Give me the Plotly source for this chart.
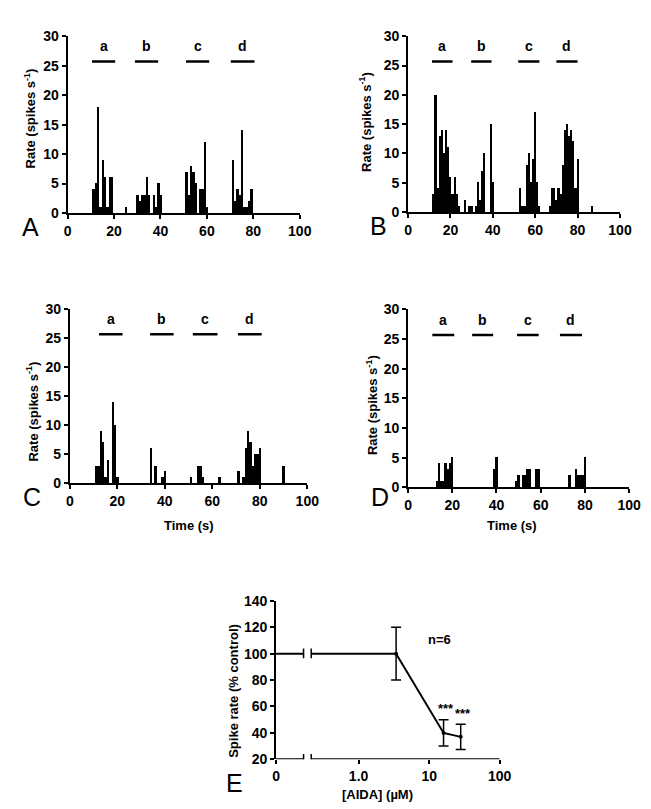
import math
import plotly.graph_objects as go

W, H = 651, 809
FONT = "Liberation Sans, Arial, sans-serif"

# spike rate histograms, 1-s bins (bin time in s, rate in spikes/s)
a_time = [11, 12, 13, 14, 15, 16, 17, 18, 19, 25,
          30, 31, 32, 33, 34, 35, 37, 38, 39, 40,
          51, 52, 53, 54, 55, 57, 58, 59, 60,
          71, 72, 73, 74, 75, 76, 77, 78, 79]
a_rate = [4, 5, 18, 1, 9, 6, 1, 6, 6, 1,
          3, 2, 3, 3, 6, 3, 3, 1, 5, 3,
          7, 3, 8, 7, 5, 4, 4, 12, 1,
          9, 2, 4, 3, 14, 1, 1, 2, 4]

b_time = [12, 13, 14, 15, 16, 17, 18, 19, 20, 21, 22, 23, 24, 27, 29, 30,
          32, 33, 34, 35, 36, 39, 40,
          53, 54, 55, 56, 57, 58, 59, 60, 61, 62,
          67, 68, 69, 70, 71, 72, 73, 74, 75, 76, 77, 78, 79, 80, 87]
b_rate = [3, 20, 4, 13, 14, 10, 14, 11, 6, 3, 6, 3, 1, 2, 1, 1,
          1, 5, 2, 7, 10, 15, 5,
          4, 1, 1, 8, 10, 5, 9, 17, 5, 1,
          1, 4, 4, 2, 4, 3, 8, 14, 15, 13, 14, 12, 4, 9, 1]

c_time = [11, 12, 13, 14, 15, 16, 18, 19, 20,
          34, 36, 39, 40, 51, 54, 55, 56, 63,
          71, 73, 74, 75, 76, 77, 78, 79, 80, 90]
c_rate = [3, 3, 9, 7, 1, 4, 14, 10, 1,
          6, 3, 1, 2, 1, 3, 3, 1, 1,
          2, 1, 6, 9, 7, 3, 5, 5, 6, 3]

d_time = [13, 14, 15, 16, 17, 18, 19, 20, 39, 40,
          49, 50, 52, 53, 54, 55, 58, 59,
          73, 76, 77, 78, 79, 80]
d_rate = [1, 4, 1, 1, 4, 3, 4, 5, 3, 5,
          1, 2, 2, 2, 3, 3, 3, 3,
          2, 3, 2, 2, 2, 5]

# application periods (s) for each panel
period_labels = ["a", "b", "c", "d"]
a_periods = [(10.5, 20.5), (29, 39), (51, 61), (70.3, 80.5)]
b_periods = [(11.3, 21), (29.8, 39.4), (52, 62), (70, 80)]
c_periods = [(12.3, 22.2), (33.8, 43.7), (51.8, 62.2), (70.8, 80.8)]
d_periods = [(11, 20.9), (29, 38.5), (49.3, 59.1), (68.7, 78.7)]
period_level = 25.7

time_ticks = [0, 20, 40, 60, 80, 100]
rate_ticks = [0, 5, 10, 15, 20, 25, 30]

# panel E: concentration-response
aida_conc = [3.4, 16, 28]
aida_rate = [100, 40, 37]
aida_sem = [20, 10, 9.5]
control_rate = 100
zero_pos = 10 ** -1.17   # where "0" sits on the log axis
axis_break = [0.166, 0.213]
conc_ticks = [zero_pos, 1, 10, 100]
conc_labels = ["0", "1.0", "10", "100"]
pct_ticks = [20, 40, 60, 80, 100, 120, 140]


def px_x(p0, p1):
    return [p0 / W, p1 / W]


def px_y(top, bottom):
    return [1 - bottom / H, 1 - top / H]


def bold(vals):
    return ["<b>%s</b>" % v for v in vals]


fig = go.Figure()

panels = [
    ("A", a_time, a_rate, a_periods, "x", "y", px_x(57, 295), px_y(20.7, 201)),
    ("B", b_time, b_rate, b_periods, "x2", "y2", px_x(406, 623.3), px_y(20.7, 200)),
    ("C", c_time, c_rate, c_periods, "x3", "y3", px_x(59.3, 302.7), px_y(299.3, 476.7)),
    ("D", d_time, d_rate, d_periods, "x4", "y4", px_x(406, 632.7), px_y(299.3, 481)),
]

tickfont = dict(family=FONT, size=14, color="black")
axis_common = dict(showline=True, linecolor="black", linewidth=2, ticks="outside",
                   ticklen=4, tickwidth=1.5, tickcolor="black", showgrid=False,
                   zeroline=False, tickfont=tickfont, fixedrange=True)

for name, t, r, periods, xa, ya, xdom, ydom in panels:
    fig.add_trace(go.Bar(x=t, y=r, width=1, marker=dict(color="black", line=dict(width=0)),
                         xaxis=xa, yaxis=ya, showlegend=False))
    for (s, e), lab in zip(periods, period_labels):
        fig.add_trace(go.Scatter(x=[s, e], y=[period_level, period_level], mode="lines",
                                 line=dict(color="black", width=2.5), xaxis=xa, yaxis=ya,
                                 showlegend=False))
        fig.add_annotation(x=(s + e) / 2, y=period_level + 0.9, text="<b>%s</b>" % lab,
                           xref=xa, yref=ya, showarrow=False, yanchor="bottom",
                           font=dict(family=FONT, size=14, color="black"))
    key = xa.replace("x", "xaxis")
    ykey = ya.replace("y", "yaxis")
    fig.update_layout({
        key: dict(domain=xdom, range=[0, 100], tickvals=time_ticks,
                  ticktext=bold(time_ticks), anchor=ya, **axis_common),
        ykey: dict(domain=ydom, range=[0, 30], tickvals=rate_ticks,
                   ticktext=bold(rate_ticks), anchor=xa, **axis_common),
    })

# panel E
line_e = dict(color="black", width=2)
fig.add_trace(go.Scatter(x=[zero_pos, axis_break[0]], y=[control_rate, control_rate],
                         mode="lines", line=line_e,
                         xaxis="x5", yaxis="y5", showlegend=False, cliponaxis=False))
fig.add_trace(go.Scatter(x=[axis_break[1], aida_conc[0]], y=[control_rate, aida_rate[0]],
                         mode="lines", line=line_e,
                         xaxis="x5", yaxis="y5", showlegend=False, cliponaxis=False))
fig.add_trace(go.Scatter(x=aida_conc, y=aida_rate, mode="lines+markers",
                         line=line_e,
                         marker=dict(color="black", size=4),
                         error_y=dict(type="data", array=aida_sem, color="black",
                                      thickness=1.5, width=5),
                         xaxis="x5", yaxis="y5", showlegend=False, cliponaxis=False))
# x baseline with break
fig.add_trace(go.Scatter(x=[zero_pos, axis_break[0], None, axis_break[1], 100],
                         y=[20, 20, None, 20, 20], mode="lines",
                         line=line_e,
                         xaxis="x5", yaxis="y5", showlegend=False, cliponaxis=False))
for bx in axis_break:
    for lvl in (20, control_rate):
        fig.add_trace(go.Scatter(x=[bx, bx], y=[lvl - 3.5, lvl + 4], mode="lines",
                                 line=dict(color="black", width=1.5),
                                 xaxis="x5", yaxis="y5", showlegend=False,
                                 cliponaxis=False))

fig.update_layout(
    xaxis5=dict(domain=px_x(270.7, 500), type="log", range=[-1.17, 2],
                tickvals=conc_ticks, ticktext=bold(conc_labels),
                anchor="y5", **{**axis_common, "showline": False}),
    yaxis5=dict(domain=px_y(596.7, 758.3), range=[20, 140],
                tickvals=pct_ticks, ticktext=bold(pct_ticks), anchor="x5", **axis_common),
)

fig.add_annotation(x=math.log10(13.8), y=111, xref="x5", yref="y5", text="<b>n=6</b>",
                   showarrow=False, font=dict(family=FONT, size=13, color="black"))
for c, r, s in zip(aida_conc[1:], aida_rate[1:], aida_sem[1:]):
    fig.add_annotation(x=math.log10(c) + 0.03, y=r + s + 1, xref="x5", yref="y5",
                       text="<b>***</b>", showarrow=False, yanchor="bottom",
                       font=dict(family=FONT, size=13, color="black"))


# panel letters and axis titles (pixel placement)
def ptext(x, y, text, size, angle=0, is_bold=True):
    fig.add_annotation(x=x / W, y=1 - y / H, xref="paper", yref="paper",
                       text="<b>%s</b>" % text if is_bold else text, showarrow=False,
                       textangle=angle, xanchor="center", yanchor="middle",
                       font=dict(family=FONT, size=size, color="black"))


for lab, x, y in [("A", 19, 215), ("B", 376, 214), ("C", 21, 491), ("D", 377, 491),
                  ("E", 228, 782)]:
    ptext(x, y, lab, 25, is_bold=False)

rate_title = "Rate (spikes s<sup>-1</sup>)"
for x, y in [(18, 105), (362, 108), (21, 403), (369, 397)]:
    ptext(x, y, rate_title, 13, angle=-90)
ptext(181, 520, "Time (s)", 13)
ptext(513, 520, "Time (s)", 13)
ptext(227, 688, "Spike rate (% control)", 13, angle=-90)
ptext(375, 794, "[AIDA] (µM)", 13)

fig.update_layout(width=W, height=H, margin=dict(l=0, r=0, t=0, b=0),
                  paper_bgcolor="white", plot_bgcolor="white", bargap=0,
                  font=dict(family=FONT, color="black"))

fig.write_html("out.html")
